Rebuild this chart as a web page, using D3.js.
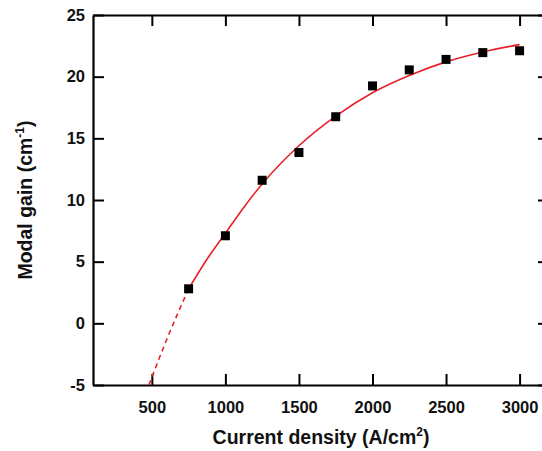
<!DOCTYPE html>
<html lang="en">
<head>
    <meta charset="UTF-8">
    <title>Modal Gain</title>
    <script src="https://d3js.org/d3.v7.min.js"></script>
    <style>
        body { margin: 0; background: #fff; }
        svg { display: block; font-family: "Liberation Sans", Arial, sans-serif; font-weight: bold; }
    </style>
    <script>
        // measured points
        const currentDensity = [750, 1000, 1250, 1500, 1750, 2000, 2250, 2500, 2750, 3000];
        const modalGain = [2.8, 7.1, 11.6, 13.85, 16.75, 19.25, 20.55, 21.4, 21.95, 22.1];

        // fitted curve
        const fitDensity = [480, 600, 750, 875, 1000, 1125, 1250, 1500, 1750, 2000, 2250, 2500, 2750, 3000];
        const fitGain = [-5, -1.35, 2.8, 5.2, 7.3, 9.4, 11.3, 14.4, 16.8, 18.7, 20.1, 21.2, 22.0, 22.6];
        const fitSplit = 750; // dashed below this, solid above

        const xTicks = [500, 1000, 1500, 2000, 2500, 3000];
        const yTicks = [-5, 0, 5, 10, 15, 20, 25];

        document.addEventListener("DOMContentLoaded", () => makeGraph());

        function makeGraph() {
            const width = 542, height = 451;
            const left = 93, right = 549, top = 15, bottom = 385;

            const svg = d3.select("svg").attr("width", width).attr("height", height);

            const x = d3.scaleLinear().domain([100, 3200]).range([left, right]);
            const y = d3.scaleLinear().domain([-5, 25]).range([bottom, top]);

            const fmt = d => String(d);
            const styleText = g => g.selectAll("text")
                .attr("font-size", 16.5).attr("font-weight", "bold")
                .attr("font-family", "Liberation Sans, Arial").attr("fill", "#111");

            // axes with inward ticks on all four sides
            svg.append("g").attr("transform", "translate(0," + bottom + ")")
                .call(d3.axisBottom(x).tickValues(xTicks).tickFormat(fmt).tickSizeInner(-11).tickSizeOuter(0).tickPadding(16))
                .call(styleText);
            svg.append("g").attr("transform", "translate(0," + top + ")")
                .call(d3.axisTop(x).tickValues(xTicks).tickSizeInner(-11).tickSizeOuter(0).tickFormat(""));
            svg.append("g").attr("transform", "translate(" + left + ",0)")
                .call(d3.axisLeft(y).tickValues(yTicks).tickFormat(fmt).tickSizeInner(-11).tickSizeOuter(0).tickPadding(8))
                .call(styleText);
            svg.append("g").attr("transform", "translate(" + right + ",0)")
                .call(d3.axisRight(y).tickValues(yTicks).tickSizeInner(-11).tickSizeOuter(0).tickFormat(""));

            svg.selectAll(".domain").attr("stroke", "#000").attr("stroke-width", 2.2);
            svg.selectAll(".tick line").attr("stroke", "#000").attr("stroke-width", 2);

            // fit curve
            const fit = fitDensity.map((d, i) => ({j: d, g: fitGain[i]}));
            const line = d3.line().x(d => x(d.j)).y(d => y(d.g)).curve(d3.curveMonotoneX);

            svg.append("path")
                .datum(fit.filter(d => d.j <= fitSplit))
                .attr("fill", "none")
                .attr("stroke", "#e8202a")
                .attr("stroke-width", 1.6)
                .attr("stroke-dasharray", "5,4")
                .attr("d", line);

            svg.append("path")
                .datum(fit.filter(d => d.j >= fitSplit))
                .attr("fill", "none")
                .attr("stroke", "#e8202a")
                .attr("stroke-width", 1.6)
                .attr("d", line);

            // data squares
            const s = 9;
            svg.append("g").selectAll("rect")
                .data(currentDensity)
                .join("rect")
                .attr("x", d => x(d) - s / 2)
                .attr("y", (d, i) => y(modalGain[i]) - s / 2)
                .attr("width", s)
                .attr("height", s)
                .attr("fill", "#000");

            // axis titles
            const xt = svg.append("text")
                .attr("x", (left + right) / 2)
                .attr("y", 444)
                .attr("text-anchor", "middle")
                .attr("font-size", 19.5)
                .attr("fill", "#111");
            xt.append("tspan").text("Current density (A/cm");
            xt.append("tspan").attr("dy", -8).attr("font-size", 12).text("2");
            xt.append("tspan").attr("dy", 8).text(")");

            const yt = svg.append("text")
                .attr("transform", "translate(32," + (top + bottom) / 2 + ") rotate(-90)")
                .attr("text-anchor", "middle")
                .attr("font-size", 19.5)
                .attr("fill", "#111");
            yt.append("tspan").text("Modal gain (cm");
            yt.append("tspan").attr("dy", -8).attr("font-size", 12).text("-1");
            yt.append("tspan").attr("dy", 8).text(")");
        }
    </script>
</head>
<body>
    <svg id="graph"></svg>
</body>
</html>
